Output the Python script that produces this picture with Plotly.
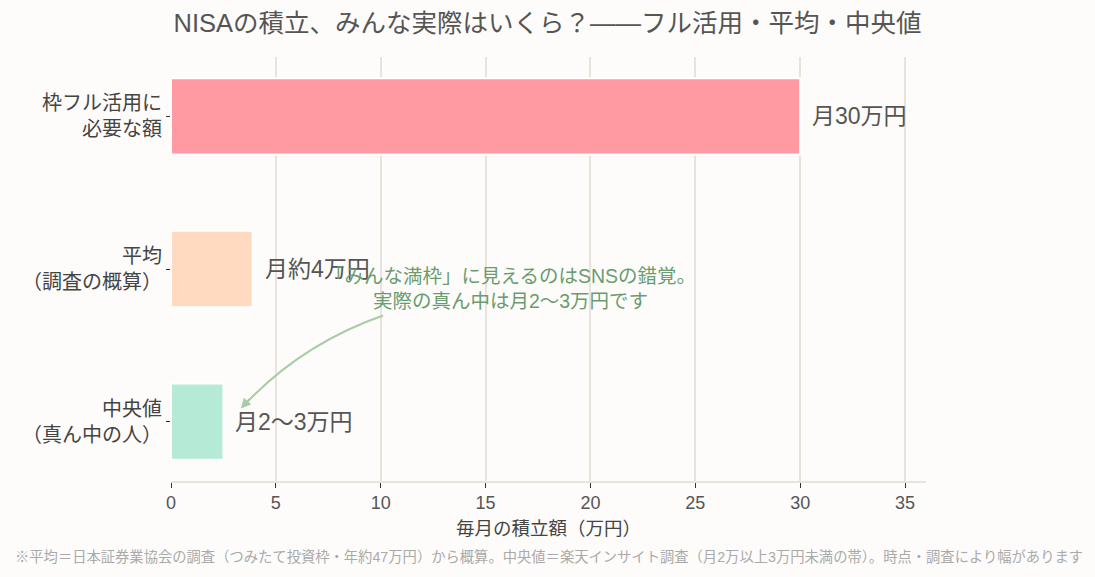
import plotly.graph_objects as go

categories = ["枠フル活用に<br>必要な額", "平均<br>（調査の概算）", "中央値<br>（真ん中の人）"]
values = [30, 3.9, 2.5]
value_labels = ["月30万円", "月約4万円", "月2〜3万円"]
colors = ["#FF9AA2", "#FFDAC1", "#B5EAD7"]
x_ticks = [0, 5, 10, 15, 20, 25, 30, 35]

FONT = "Liberation Sans, Arial, Noto Sans CJK JP, sans-serif"
ypos = list(range(len(categories)))

fig = go.Figure()
fig.add_trace(go.Bar(
    x=values, y=ypos, orientation="h",
    marker=dict(color=colors, line=dict(color="white", width=2)),
    width=0.5, hoverinfo="skip", showlegend=False,
))

for v, y, t in zip(values, ypos, value_labels):
    fig.add_annotation(x=v, y=y, text=t, showarrow=False, xanchor="left",
                       xshift=10, font=dict(size=23, color="#555555", family=FONT))

# curved arrow (annotation decoration)
fig.add_shape(type="path", xref="x", yref="y",
              path="M 10.11,1.305 Q 6.17,1.495 3.4,1.905",
              line=dict(color="#A8CBA8", width=2))
fig.add_annotation(x=3.33, y=1.915, ax=10, ay=-11, text="", showarrow=True,
                   arrowhead=2, arrowsize=1, arrowwidth=2, arrowcolor="#A8CBA8")
fig.add_annotation(x=16.2, y=1.13,
                   text="「みんな満枠」に見えるのはSNSの錯覚。<br>実際の真ん中は月2〜3万円です",
                   showarrow=False, font=dict(size=19.5, color="#6A9C70", family=FONT))

fig.add_annotation(xref="paper", yref="paper", x=0.5, y=0, yshift=-76, yanchor="middle",
                   text="※平均＝日本証券業協会の調査（つみたて投資枠・年約47万円）から概算。中央値＝楽天インサイト調査（月2万以上3万円未満の帯）。時点・調査により幅があります",
                   showarrow=False, font=dict(size=14.3, color="#AAAAAA", family=FONT))

fig.update_layout(
    width=1095, height=577,
    margin=dict(l=171, r=169, t=57, b=96),
    paper_bgcolor="#FDFCFA", plot_bgcolor="#FDFCFA",
    font=dict(family=FONT, color="#555555"),
    title=dict(text="NISAの積立、みんな実際はいくら？——フル活用・平均・中央値",
               x=0.5, xanchor="center", y=0.96, yanchor="middle",
               font=dict(size=25.5, color="#555555", family=FONT)),
    xaxis=dict(range=[0, 36], tickvals=x_ticks, showgrid=True, gridcolor="#EAE3DC",
               gridwidth=1.5, zeroline=False, showline=True, linecolor="#EAE3DC",
               linewidth=1.5, ticks="outside", ticklen=5, tickcolor="#333333",
               tickfont=dict(size=18, color="#555555"),
               title=dict(text="毎月の積立額（万円）", standoff=10,
                          font=dict(size=18.5, color="#444444"))),
    yaxis=dict(range=[2.39, -0.39], tickvals=ypos, ticktext=categories,
               showgrid=False, zeroline=False, ticks="outside", ticklen=4,
               tickcolor="#333333", tickfont=dict(size=20, color="#444444")),
)

fig.write_html("out.html")
